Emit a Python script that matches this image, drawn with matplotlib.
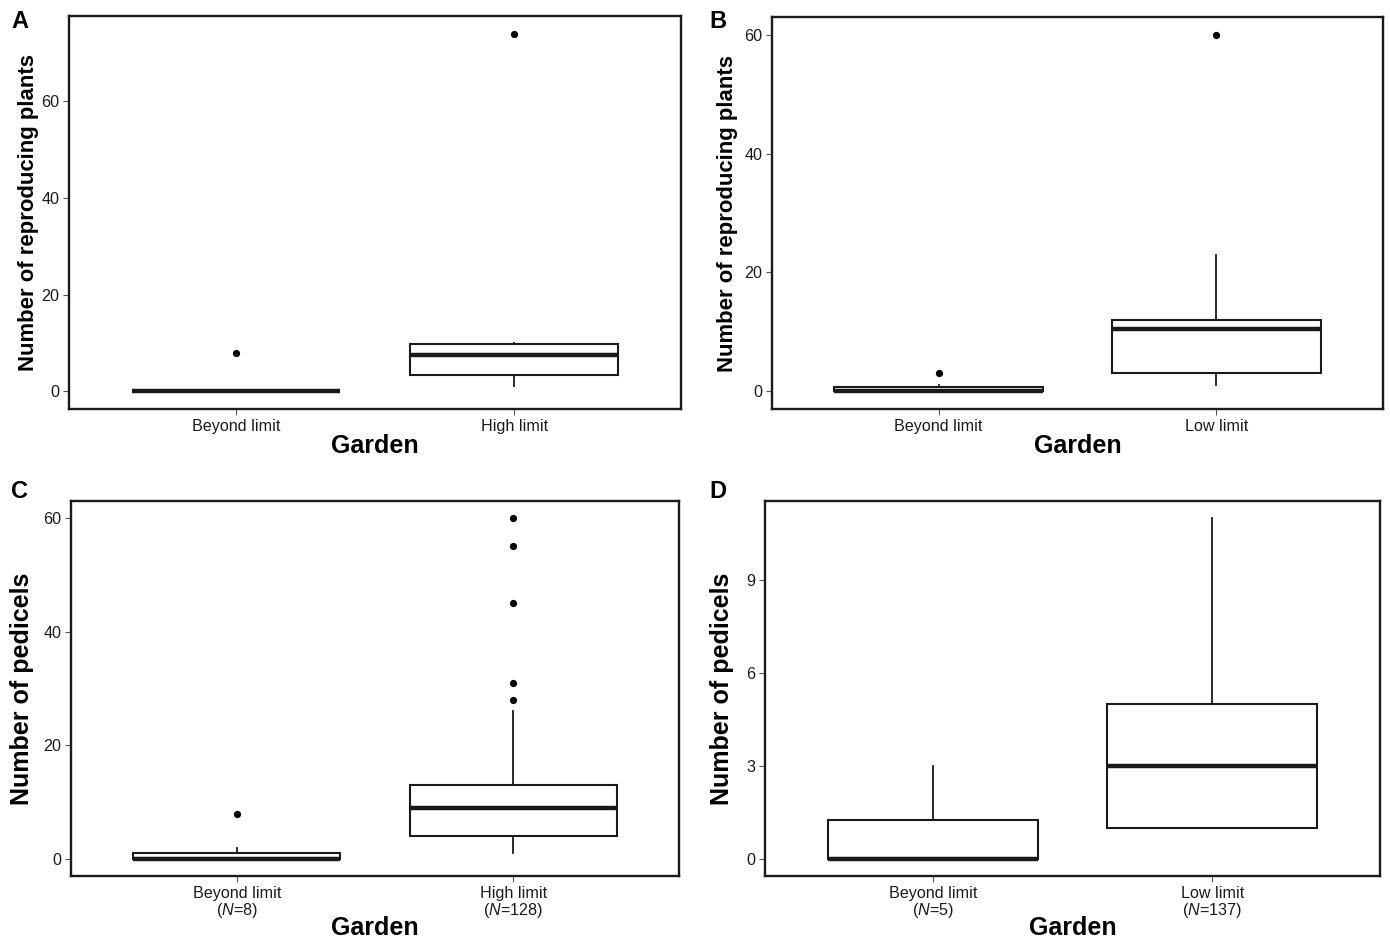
import matplotlib
matplotlib.use("Agg")
import matplotlib.pyplot as plt

# ---------------- data ----------------
cats_A = ["Beyond limit", "High limit"]
q1_A = [0, 3.25]
med_A = [0, 7.5]
q3_A = [0, 9.75]
wlo_A = [0, 1]
whi_A = [0, 10]
fl_A = [[8], [74]]

cats_B = ["Beyond limit", "Low limit"]
q1_B = [0, 3]
med_B = [0, 10.5]
q3_B = [0.75, 12]
wlo_B = [0, 1]
whi_B = [1, 23]
fl_B = [[3], [60]]

cats_C = ["Beyond limit\n($\\mathit{N}$=8)", "High limit\n($\\mathit{N}$=128)"]
q1_C = [0, 4]
med_C = [0, 9]
q3_C = [1, 13]
wlo_C = [0, 1]
whi_C = [2, 26]
fl_C = [[8], [28, 31, 45, 55, 60]]

cats_D = ["Beyond limit\n($\\mathit{N}$=5)", "Low limit\n($\\mathit{N}$=137)"]
q1_D = [0, 1]
med_D = [0, 3]
q3_D = [1.25, 5]
wlo_D = [0, 1]
whi_D = [3, 11]
fl_D = [[], []]

yticks_A = [0, 20, 40, 60]
yticks_B = [0, 20, 40, 60]
yticks_C = [0, 20, 40, 60]
yticks_D = [0, 3, 6, 9]

ylab_top = "Number of reproducing plants"
ylab_bot = "Number of pedicels"
xlab = "Garden"

# ---------------- fonts ----------------
plt.rcParams["font.family"] = ["Liberation Sans", "DejaVu Sans"]
plt.rcParams["mathtext.fontset"] = "custom"
plt.rcParams["mathtext.it"] = "Liberation Sans:italic"
plt.rcParams["mathtext.rm"] = "Liberation Sans"

W, H = 1390, 940
fig = plt.figure(figsize=(W / 100, H / 100), dpi=100)


def add_axes_px(x0, y0, x1, y1):
    return fig.add_axes([x0 / W, 1 - y1 / H, (x1 - x0) / W, (y1 - y0) / H])


def panel(ax, cats, q1, med, q3, wlo, whi, fl, yticks, ylabel, ylab_size,
          ylab_off_px, xlab_off_px, letter, letter_xy):
    stats = []
    for i in range(len(cats)):
        stats.append(dict(q1=q1[i], med=med[i], q3=q3[i], whislo=wlo[i],
                          whishi=whi[i], fliers=fl[i], label=cats[i]))
    ax.bxp(stats, positions=[1, 2], widths=0.75, patch_artist=True,
           showcaps=False,
           boxprops=dict(facecolor="white", edgecolor="#1a1a1a", linewidth=1.5),
           medianprops=dict(color="#1a1a1a", linewidth=3.2, solid_capstyle="butt"),
           whiskerprops=dict(color="#1a1a1a", linewidth=1.3),
           flierprops=dict(marker="o", markersize=4.2, markerfacecolor="black",
                           markeredgecolor="black", linestyle="none"))
    allv = []
    for i in range(len(cats)):
        allv += [wlo[i], whi[i], q1[i], q3[i]] + list(fl[i])
    lo, hi = min(allv), max(allv)
    rng = hi - lo
    ax.set_ylim(lo - 0.05 * rng, hi + 0.05 * rng)
    ax.set_xlim(0.4, 2.6)
    ax.set_yticks(yticks)
    ax.set_yticklabels([str(t) for t in yticks])
    ax.set_xticks([1, 2])
    ax.set_xticklabels(cats, linespacing=1.0)
    ax.tick_params(axis="both", direction="out", length=4, width=0.8,
                   color="#555555", labelsize=11.6, labelcolor="#1a1a1a", pad=3)
    for s in ax.spines.values():
        s.set_linewidth(1.7)
        s.set_color("#1a1a1a")
    bb = ax.get_position()
    wpx = bb.width * W
    hpx = bb.height * H
    ax.set_ylabel(ylabel, fontsize=ylab_size, fontweight="bold")
    ax.yaxis.set_label_coords(-ylab_off_px / wpx, 0.5)
    ax.set_xlabel(xlab, fontsize=18, fontweight="bold")
    ax.xaxis.set_label_coords(0.5, -xlab_off_px / hpx)
    fig.text(letter_xy[0] / W, 1 - letter_xy[1] / H, letter, fontsize=17,
             fontweight="bold", ha="center", va="center")


axA = add_axes_px(69, 16, 681, 409)
axB = add_axes_px(772, 17, 1383, 409)
axC = add_axes_px(71, 501, 679, 876)
axD = add_axes_px(765, 501, 1380, 876)

panel(axA, cats_A, q1_A, med_A, q3_A, wlo_A, whi_A, fl_A, yticks_A,
      ylab_top, 15.9, 30, 25, "A", (20, 22))
panel(axB, cats_B, q1_B, med_B, q3_B, wlo_B, whi_B, fl_B, yticks_B,
      ylab_top, 15.9, 34, 25, "B", (718, 22))
panel(axC, cats_C, q1_C, med_C, q3_C, wlo_C, whi_C, fl_C, yticks_C,
      ylab_bot, 18, 37, 40, "C", (20, 492))
panel(axD, cats_D, q1_D, med_D, q3_D, wlo_D, whi_D, fl_D, yticks_D,
      ylab_bot, 18, 31, 40, "D", (718, 492))

fig.savefig("out.png", dpi=100, facecolor="white")
